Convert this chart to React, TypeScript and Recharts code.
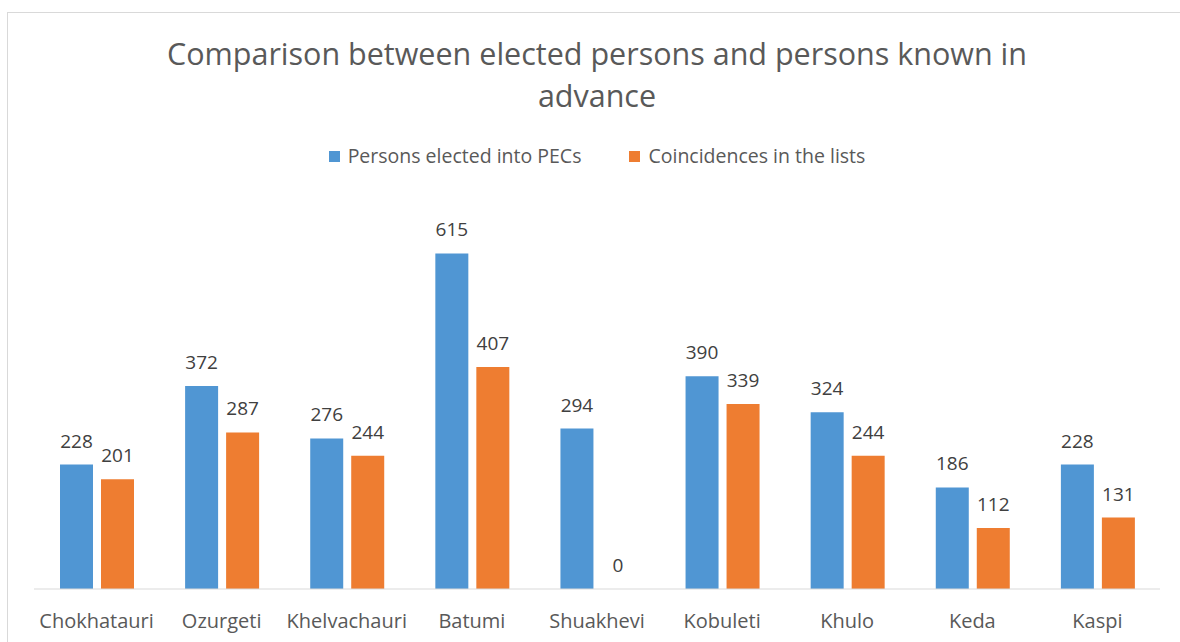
import { BarChart, Bar, XAxis, YAxis, LabelList } from 'recharts';

// Municipalities along the x-axis
const districts = ['Chokhatauri', 'Ozurgeti', 'Khelvachauri', 'Batumi', 'Shuakhevi', 'Kobuleti', 'Khulo', 'Keda', 'Kaspi'];
// Persons elected into PECs
const elected = [228, 372, 276, 615, 294, 390, 324, 186, 228];
// Coincidences in the lists
const coincidences = [201, 287, 244, 407, 0, 339, 244, 112, 131];

const seriesNames = ['Persons elected into PECs', 'Coincidences in the lists'];

const BLUE = '#5096D3';
const ORANGE = '#EE7D31';
const FONT = '"Open Sans", sans-serif';

const data = districts.map((name, i) => ({
  name,
  elected: elected[i],
  coincidences: coincidences[i],
}));

// value label drawn by hand so that the zero bar still gets its "0"
const renderValue = (props: any) => {
  const { x, y, width, value } = props;
  return (
    <text x={Number(x) + Number(width) / 2} y={Number(y) - 17} textAnchor="middle" fill="#404040" fontSize={19} fontFamily={FONT}>
      {value}
    </text>
  );
};

export default function App() {
  return (
    <div style={{ position: 'relative', width: 1164, height: 626, fontFamily: FONT }}>
      {/* chart frame, only top and left visible */}
      <div style={{ position: 'fixed', left: 7, top: 12, right: 0, bottom: 0, borderTop: '1px solid #d9d9d9', borderLeft: '1px solid #d9d9d9', zIndex: 2, pointerEvents: 'none' }} />

      {/* title */}
      <div style={{ position: 'absolute', left: 0, top: 24, width: 1178, textAlign: 'center', fontSize: 30.5, lineHeight: '42px', color: '#595959' }}>
        Comparison between elected persons and persons known in
        <br />
        advance
      </div>

      {/* legend */}
      <div style={{ position: 'absolute', left: 0, top: 134, width: 1178, display: 'flex', justifyContent: 'center', gap: '48px', fontSize: 19.5, lineHeight: '28px', color: '#595959' }}>
        {seriesNames.map((label, i) => (
          <div key={label} style={{ display: 'flex', alignItems: 'center' }}>
            <span style={{ width: 11, height: 11, backgroundColor: i === 0 ? BLUE : ORANGE, display: 'inline-block', marginRight: 8 }} />
            <span>{label}</span>
          </div>
        ))}
      </div>

      <div style={{ position: 'absolute', left: 0, top: 0 }}>
        <BarChart
          width={1164}
          height={626}
          data={data}
          margin={{ top: 199, right: 12, bottom: 0, left: 26 }}
          barSize={33}
          barGap={8}
        >
          <XAxis
            dataKey="name"
            height={45}
            tickLine={false}
            axisLine={{ stroke: '#d9d9d9', strokeWidth: 1 }}
            tick={{ fill: '#595959', fontSize: 20, fontFamily: FONT }}
            tickMargin={19}
            interval={0}
          />
          <YAxis hide domain={[0, 700]} />
          <Bar dataKey="elected" name={seriesNames[0]} fill={BLUE} isAnimationActive={false}>
            <LabelList dataKey="elected" content={renderValue} />
          </Bar>
          <Bar
            dataKey="coincidences"
            name={seriesNames[1]}
            fill={ORANGE}
            isAnimationActive={false}
            minPointSize={(v: number) => (v === 0 ? 0.01 : 0)}
          >
            <LabelList dataKey="coincidences" content={renderValue} />
          </Bar>
        </BarChart>
      </div>
    </div>
  );
}
